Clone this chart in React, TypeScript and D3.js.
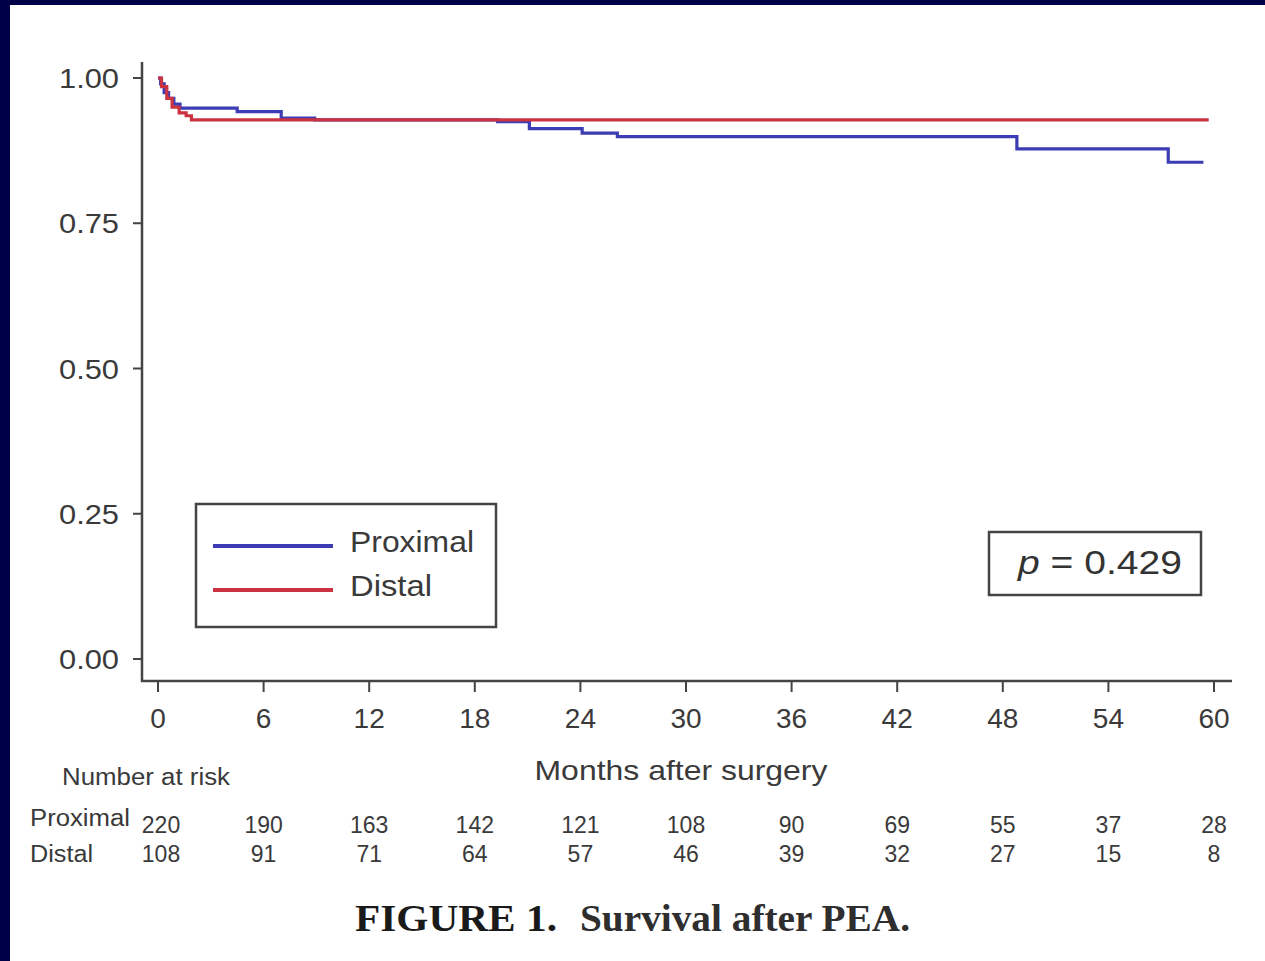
import React from "react";
import * as d3 from "d3";

const xTicks = [0, 6, 12, 18, 24, 30, 36, 42, 48, 54, 60];
const yTicks = [0, 0.25, 0.5, 0.75, 1.0];
const yTickLabels = ["0.00", "0.25", "0.50", "0.75", "1.00"];

const proximalTimes = [0, 0.15, 0.35, 0.6, 0.9, 1.25, 4.5, 7.0, 8.9, 19.3, 21.1, 24.1, 26.1, 48.8, 57.4, 59.4];
const proximalSurv = [1.0, 0.99, 0.975, 0.965, 0.955, 0.948, 0.942, 0.931, 0.928, 0.925, 0.913, 0.905, 0.899, 0.878, 0.855, 0.855];

const distalTimes = [0, 0.2, 0.5, 0.8, 1.2, 1.6, 1.9, 59.7];
const distalSurv = [1.0, 0.985, 0.965, 0.95, 0.94, 0.935, 0.928, 0.928];

const riskProximal = ["220", "190", "163", "142", "121", "108", "90", "69", "55", "37", "28"];
const riskDistal = ["108", "91", "71", "64", "57", "46", "39", "32", "27", "15", "8"];

const BLUE = "#3c3cb4";
const RED = "#cc3340";
const AX = "#444";
const TXT = "#3a3a3a";
const SANS = "'Liberation Sans', Arial, sans-serif";
const SERIF = "'Liberation Serif', 'Times New Roman', serif";
const LA = "spacingAndGlyphs";

export default function App() {
  const x = d3.scaleLinear().domain([0, 60]).range([158, 1214]);
  const y = d3.scaleLinear().domain([0, 1]).range([659, 78]);
  const line = d3
    .line<[number, number]>()
    .x((d) => x(d[0]))
    .y((d) => y(d[1]))
    .curve(d3.curveStepAfter);
  const prox = proximalTimes.map((t, i) => [t, proximalSurv[i]] as [number, number]);
  const dist = distalTimes.map((t, i) => [t, distalSurv[i]] as [number, number]);

  return (
    <svg
      width={1265}
      height={961}
      style={{ position: "absolute", left: 0, top: 0, display: "block" }}
    >
      <rect x={0} y={0} width={1265} height={961} fill="#ffffff" />
      <rect x={0} y={0} width={10} height={961} fill="#000048" />
      <rect x={0} y={0} width={1265} height={5} fill="#000048" />

      {/* axes */}
      <line x1={142} y1={62} x2={142} y2={682} stroke={AX} strokeWidth={2.5} />
      <line x1={141} y1={681} x2={1232} y2={681} stroke={AX} strokeWidth={2.5} />
      {yTicks.map((t, i) => (
        <g key={"y" + i}>
          <line x1={133} x2={142} y1={y(t)} y2={y(t)} stroke={AX} strokeWidth={2} />
          <text
            x={119}
            y={y(t) + 10}
            textAnchor="end"
            fontFamily={SANS}
            fontSize={28}
            fill={TXT}
            textLength={60}
            lengthAdjust={LA}
          >
            {yTickLabels[i]}
          </text>
        </g>
      ))}
      {xTicks.map((t) => (
        <g key={"x" + t}>
          <line x1={x(t)} x2={x(t)} y1={681} y2={692} stroke={AX} strokeWidth={2} />
          <text
            x={x(t)}
            y={728}
            textAnchor="middle"
            fontFamily={SANS}
            fontSize={28}
            fill={TXT}
          >
            {t}
          </text>
        </g>
      ))}
      <text
        x={681}
        y={780}
        textAnchor="middle"
        fontFamily={SANS}
        fontSize={28}
        fill={TXT}
        textLength={293}
        lengthAdjust={LA}
      >
        Months after surgery
      </text>

      {/* curves */}
      <path d={line(prox) || ""} fill="none" stroke={BLUE} strokeWidth={3.2} />
      <path d={line(dist) || ""} fill="none" stroke={RED} strokeWidth={3.2} />

      {/* legend */}
      <rect x={196} y={504} width={300} height={123} fill="none" stroke={AX} strokeWidth={2.5} />
      <line x1={213} x2={333} y1={546} y2={546} stroke={BLUE} strokeWidth={4} />
      <line x1={213} x2={333} y1={590} y2={590} stroke={RED} strokeWidth={4} />
      <text x={350} y={552} fontFamily={SANS} fontSize={30} fill={TXT} textLength={124} lengthAdjust={LA}>
        Proximal
      </text>
      <text x={350} y={596} fontFamily={SANS} fontSize={30} fill={TXT} textLength={82} lengthAdjust={LA}>
        Distal
      </text>

      {/* p value */}
      <rect x={989} y={532} width={212} height={63} fill="none" stroke={AX} strokeWidth={2.5} />
      <text
        x={1018}
        y={574}
        fontFamily={SANS}
        fontSize={34}
        fill="#333"
        textLength={164}
        lengthAdjust={LA}
      >
        <tspan fontStyle="italic">p</tspan>
        <tspan> = 0.429</tspan>
      </text>

      {/* number at risk */}
      <text x={62} y={785} fontFamily={SANS} fontSize={23} fill={TXT} textLength={168} lengthAdjust={LA}>
        Number at risk
      </text>
      <text x={30} y={826} fontFamily={SANS} fontSize={23} fill={TXT} textLength={100} lengthAdjust={LA}>
        Proximal
      </text>
      <text x={30} y={862} fontFamily={SANS} fontSize={23} fill={TXT} textLength={63} lengthAdjust={LA}>
        Distal
      </text>
      {riskProximal.map((v, i) => (
        <text
          key={"rp" + i}
          x={x(xTicks[i]) + (i === 0 ? 3 : 0)}
          y={833}
          textAnchor="middle"
          fontFamily={SANS}
          fontSize={23}
          fill={TXT}
        >
          {v}
        </text>
      ))}
      {riskDistal.map((v, i) => (
        <text
          key={"rd" + i}
          x={x(xTicks[i]) + (i === 0 ? 3 : 0)}
          y={862}
          textAnchor="middle"
          fontFamily={SANS}
          fontSize={23}
          fill={TXT}
        >
          {v}
        </text>
      ))}

      {/* caption */}
      <text
        x={355}
        y={931}
        fontFamily={SERIF}
        fontSize={38}
        fontWeight="bold"
        fill="#1a1a1a"
        textLength={202}
        lengthAdjust={LA}
      >
        FIGURE 1.
      </text>
      <text
        x={580}
        y={931}
        fontFamily={SERIF}
        fontSize={38}
        fontWeight="bold"
        fill="#2e2e2e"
        textLength={330}
        lengthAdjust={LA}
      >
        Survival after PEA.
      </text>
    </svg>
  );
}
